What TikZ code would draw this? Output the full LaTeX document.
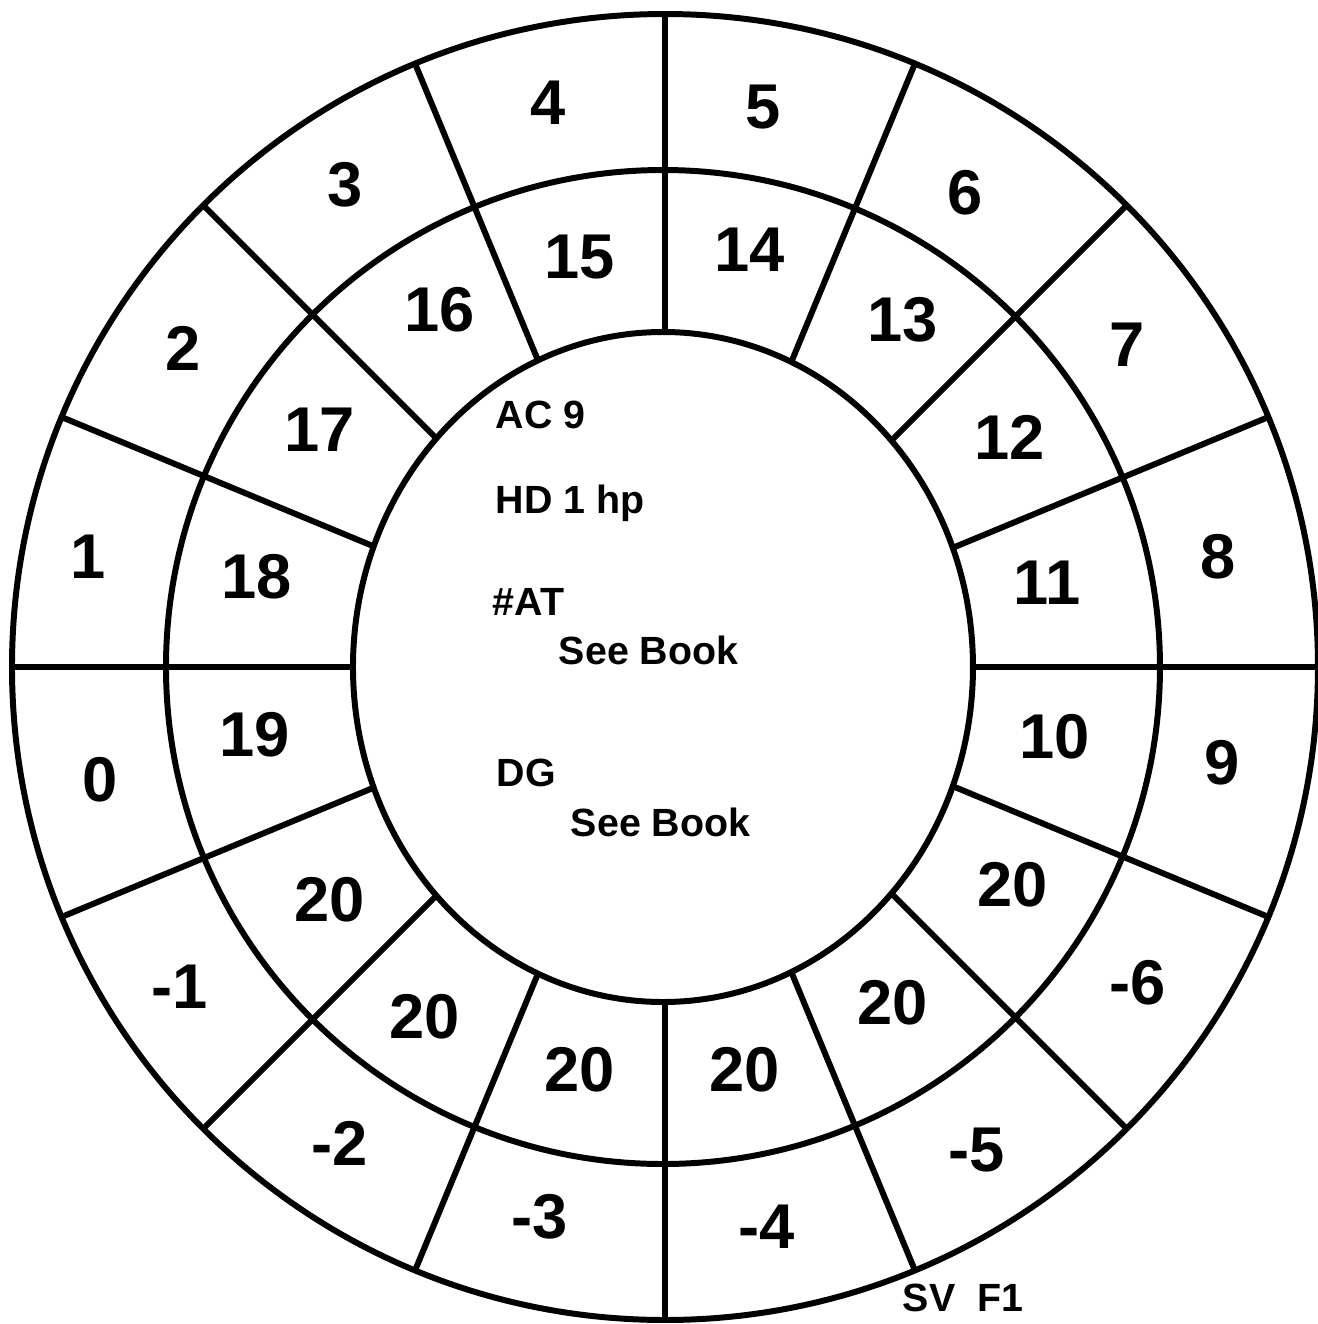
\documentclass[tikz,border=0pt]{standalone}
\usepackage{fontspec}
\setmainfont{Liberation Sans}
\begin{document}
\begin{tikzpicture}[x=1mm,y=1mm,line width=1.7pt,
  big/.style={font=\fontsize{18}{21}\selectfont\bfseries,inner sep=0pt},
  small/.style={font=\fontsize{11.2}{13}\selectfont\bfseries,inner sep=0pt}]
\useasboundingbox (-66.5,-65.7) rectangle (65.3,66.7);
\fill[white] (-66.5,-65.7) rectangle (65.3,66.7);
\draw (0,0) circle (65.3);
\draw (-0.2,0) circle (49.7);
\draw (-0.2,0) ellipse (31 and 33.5);
\foreach \a in {0,22.5,...,337.5}{
  \pgfmathsetmacro\r{31*33.5/sqrt((33.5*cos(\a))^2+(31*sin(\a))^2)}
  \draw (\a:\r) -- (\a:65.3);
}
\begin{scope}[shift={(-66.5,66.7)},x=0.1mm,y=-0.1mm]
% outer ring
\node[big] (o4) at (548,103) {4};
\node[big] (o5) at (763,107) {5};
\node[big] (o6) at (965,193) {6};
\node[big] (o7) at (1127,345) {7};
\node[big] (o8) at (1218,557) {8};
\node[big] (o9) at (1222,763) {9};
\node[big] (om6) at (1138,983) {-6};
\node[big] (om5) at (977,1150) {-5};
\node[big] (om4) at (767,1227) {-4};
\node[big] (om3) at (540,1217) {-3};
\node[big] (om2) at (340,1143) {-2};
\node[big] (om1) at (180,987) {-1};
\node[big] (o0) at (100,780) {0};
\node[big] (o1) at (88,557) {1};
\node[big] (o2) at (183,348) {2};
\node[big] (o3) at (345,185) {3};
% middle ring
\node[big] (m15) at (580,257) {15};
\node[big] (m14) at (750,250) {14};
\node[big] (m13) at (903,320) {13};
\node[big] (m12) at (1010,437) {12};
\node[big] (m11) at (1047,583) {11};
\node[big] (m10) at (1055,737) {10};
\node[big] (m20a) at (1013,885) {20};
\node[big] (m20b) at (893,1003) {20};
\node[big] (m20c) at (745,1070) {20};
\node[big] (m20d) at (580,1070) {20};
\node[big] (m20e) at (425,1017) {20};
\node[big] (m20f) at (330,900) {20};
\node[big] (m19) at (255,735) {19};
\node[big] (m18) at (257,577) {18};
\node[big] (m17) at (320,430) {17};
\node[big] (m16) at (440,310) {16};
% centre texts
\node[small,anchor=west] (ac) at (493,415) {AC 9};
\node[small,anchor=west] (hd) at (493,503) {HD 1 hp};
\node[small,anchor=west] (at) at (490,602) {\#AT};
\node[small,anchor=west] (sb1) at (556,650) {See Book};
\node[small,anchor=west] (dg) at (494,773) {DG};
\node[small,anchor=west] (sb2) at (568,822) {See Book};
\node[small,anchor=west] (sv) at (900,1298) {SV\ \ F1};
\end{scope}
\end{tikzpicture}
\end{document}
